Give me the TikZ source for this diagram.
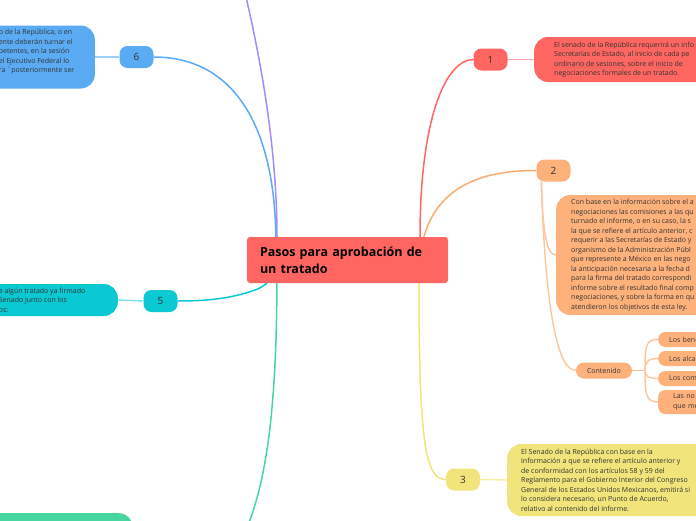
\documentclass[tikz,border=0pt]{standalone}
\usepackage{fontspec}
\setmainfont{Open Sans}
\usetikzlibrary{backgrounds}
\definecolor{cRed}{HTML}{FF6661}
\definecolor{cRedL}{HTML}{FFA7A4}
\definecolor{cOr}{HTML}{FFB17C}
\definecolor{cOrD}{HTML}{FFAA70}
\definecolor{cOrL}{HTML}{FFC49A}
\definecolor{cYel}{HTML}{F0E47B}
\definecolor{cYelL}{HTML}{F5EDA0}
\definecolor{cBlue}{HTML}{5AABF4}
\definecolor{cBlueL}{HTML}{9CCDF8}
\definecolor{cCyan}{HTML}{0BC9D2}
\definecolor{cCyanL}{HTML}{7ADFE4}
\definecolor{cGreen}{HTML}{46D6A0}
\definecolor{cPurple}{HTML}{A18CFF}
\definecolor{txt}{HTML}{333333}
\begin{document}
\begin{tikzpicture}[x=1pt,y=-1pt,
  num/.style={rounded corners=8pt, minimum width=34pt, minimum height=22pt, inner sep=0pt,
    font=\fontsize{10}{12}\selectfont, text=txt},
  txtbox/.style={rounded corners=14pt, inner xsep=0pt, inner ysep=0pt,
    font=\fontsize{7}{9.5}\selectfont, text=txt, align=left},
  leaf/.style={rounded corners=7pt, inner ysep=0pt, text width=50pt, align=left,
    font=\fontsize{7}{9.5}\selectfont, text=txt, fill=cOr},
  conn/.style={line width=1.5pt},
  lconn/.style={line width=1.4pt}
]
\useasboundingbox (0,0) rectangle (696,520);
\clip (0,0) rectangle (696,520);

% central
\node[fill=cRed, rounded corners=3pt, minimum width=201pt, minimum height=46pt,
  text width=175pt, inner xsep=13pt, align=left,
  font=\fontsize{12.5}{17}\selectfont\bfseries, text=black] (c) at (347.5,260)
  {Pasos para aprobación de\\un tratado};
\coordinate (cL) at (277,262);
\coordinate (cR) at (420,262);

% number nodes
\node[num, fill=cRed] (n1) at (490.5,59.5) {1};
\node[num, fill=cOr] (n2) at (553.5,170.5) {2};
\node[num, fill=cYel] (n3) at (463,479.5) {3};
\node[num, fill=cCyan] (n5) at (160.5,301) {5};
\node[num, fill=cBlue] (n6) at (136.5,57) {6};

% boxes
\node[txtbox, fill=cRed, minimum height=45pt, anchor=west] (b1) at (534,59.5)
  {\hspace*{20pt}\parbox{190pt}{\raggedright El senado de la República requerirá un info\\Secretarías de Estado, al inicio de cada pe\\ordinario de sesiones, sobre el inicio de\\negociaciones formales de un tratado.}};

\node[txtbox, fill=cOr, minimum height=120pt, anchor=west] (b2) at (556,255)
  {\hspace*{15pt}\parbox{200pt}{\raggedright Con base en la información sobre el a\\negociaciones las comisiones a las qu\\turnado el informe, o en su caso, la s\\la que se refiere el artículo anterior, c\\requerir a las Secretarías de Estado y\\organismo de la Administración Públ\\que represente a México en las nego\\la anticipación necesaria a la fecha d\\para la firma del tratado correspondi\\informe sobre el resultado final comp\\negociaciones, y sobre la forma en qu\\atendieron los objetivos de esta ley.}};

\node[txtbox, fill=cYel, minimum height=72pt, anchor=west] (b3) at (507,480)
  {\hspace*{14pt}\parbox{210pt}{\raggedright El Senado de la República con base en la\\información a que se refiere el artículo anterior y\\de conformidad con los artículos 58 y 59 del\\Reglamento para el Gobierno Interior del Congreso\\General de los Estados Unidos Mexicanos, emitirá si\\lo considera necesario, un Punto de Acuerdo,\\relativo al contenido del informe.}};

\node[txtbox, fill=cBlue, minimum height=63pt, anchor=east] (b6) at (95,57)
  {\hspace*{40pt}\parbox{90pt}{\raggedright o de la República, o en\\ente deberán turnar el\\petentes, en la sesión\\el Ejecutivo Federal lo\\ra ´posteriormente ser\\\strut}\hspace*{6pt}};

\node[txtbox, fill=cCyan, minimum height=32pt, anchor=east] (b5) at (118,300)
  {\hspace*{30pt}\parbox{100pt}{\raggedright e algún tratado ya firmado\\Senado junto con los\\os:}\hspace*{19pt}};

\node[txtbox, fill=cGreen, minimum width=220pt, minimum height=60pt, anchor=north east] (b4) at (133,513) {};

% contenido
\node[rounded corners=8pt, fill=cOr, minimum width=56pt, minimum height=16pt, inner sep=0pt,
  font=\fontsize{7}{9}\selectfont, text=txt] (ct) at (604,370.5) {Contenido};
\node[leaf, anchor=west, minimum height=15pt, inner xsep=11pt] (ca) at (658,339.5) {Los bene};
\node[leaf, anchor=west, minimum height=15pt, inner xsep=11pt] (cb) at (658,358.5) {Los alca};
\node[leaf, anchor=west, minimum height=15pt, inner xsep=11pt] (cc) at (658,378.5) {Los com};
\node[leaf, anchor=west, minimum height=24pt, inner xsep=15pt] (cd) at (658,402) {Las no\\que me};
\coordinate (ctj) at (645,370.5);

\coordinate (p7) at (241,-20);
\coordinate (g4) at (238,548);

\begin{scope}[on background layer]
  % left side
  \draw[conn, cPurple] (cL) -- (277,237) .. controls (277,158) and (264,75) .. (246.7,0) -- (p7);
  \draw[conn, cBlue] (cL) -- (276,245) .. controls (276,120) and (230,57) .. (n6.east);
  \draw[conn, cCyan] (cL) .. controls (282,275) and (262,288) .. (255,290)
     .. controls (230,299) and (205,301) .. (n5.east);
  \draw[conn, cGreen] (cL) -- (277,270) .. controls (277,400) and (268,470) .. (250,520) -- (g4);
  \draw[lconn, cBlueL] (n6.west) -- (b6.east);
  \draw[lconn, cCyanL] (n5.west) -- (b5.east);
  % right side
  \draw[conn, cRed] (cR) -- (420,237) .. controls (420,120) and (445,60) .. (n1.west);
  \draw[conn, cOrD] (cR) -- (422,245) .. controls (432,195) and (470,170) .. (n2.west);
  \draw[conn, cYel] (cR) -- (419,283) .. controls (419,440) and (425,480) .. (n3.west);
  \draw[lconn, cRedL] (n1.east) -- (b1.west);
  \draw[lconn, cYelL] (n3.east) -- (b3.west);
  \draw[lconn, cOrL] ([xshift=5pt]n2.south west) .. controls (543,240) and (548,255) .. (b2.west);
  \draw[lconn, cOrL] ([xshift=5pt]n2.south west) .. controls (545,300) and (556,370.5) .. (ct.west);
  \draw[lconn, cOrL] (ct.east) -- (ctj);
  \draw[lconn, cOrL] (ctj) .. controls (645,345) and (646,339.5) .. (ca.west);
  \draw[lconn, cOrL] (ctj) .. controls (645,362) and (648,358.5) .. (cb.west);
  \draw[lconn, cOrL] (ctj) .. controls (645,376) and (648,378.5) .. (cc.west);
  \draw[lconn, cOrL] (ctj) .. controls (645,395) and (646,402) .. (cd.west);
\end{scope}
\end{tikzpicture}
\end{document}
